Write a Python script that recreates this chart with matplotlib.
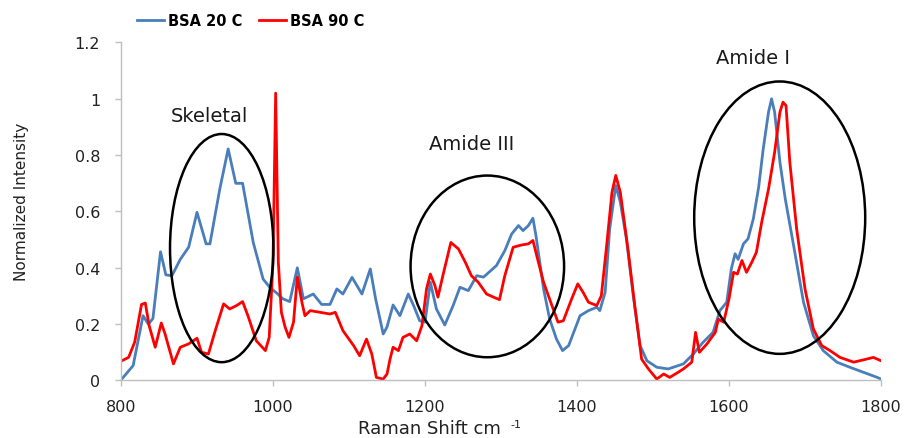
import matplotlib
matplotlib.use("Agg")
import matplotlib.pyplot as plt
from matplotlib.patches import Ellipse

blue_x = [801, 816, 829, 836, 842, 852, 859, 867, 878, 889, 900, 912, 917, 930, 941, 951, 960, 974, 987, 996,
          1005, 1013, 1022, 1032, 1040, 1053, 1064, 1075, 1084, 1092, 1104, 1117, 1128, 1135, 1145, 1150, 1158,
          1167, 1178, 1185, 1193, 1200, 1207, 1215, 1226, 1237, 1246, 1257, 1268, 1277, 1294, 1305, 1314, 1323,
          1329, 1336, 1342, 1346, 1356, 1364, 1373, 1381, 1389, 1404, 1415, 1426, 1430, 1437, 1443, 1451, 1457,
          1465, 1474, 1483, 1492, 1505, 1520, 1540, 1553, 1566, 1579, 1588, 1597, 1603, 1608, 1612, 1619, 1625,
          1632, 1639, 1645, 1652, 1656, 1660, 1667, 1674, 1685, 1698, 1711, 1724, 1742, 1759, 1777, 1795, 1800]
blue_y = [0.005, 0.053, 0.23, 0.20, 0.22, 0.457, 0.375, 0.372, 0.43, 0.473, 0.597, 0.485, 0.485, 0.68, 0.822,
          0.70, 0.70, 0.49, 0.36, 0.33, 0.31, 0.29, 0.28, 0.40, 0.29, 0.307, 0.27, 0.27, 0.325, 0.307, 0.366,
          0.307, 0.396, 0.29, 0.165, 0.19, 0.268, 0.23, 0.307, 0.266, 0.212, 0.207, 0.349, 0.254, 0.197, 0.266,
          0.331, 0.319, 0.372, 0.367, 0.408, 0.461, 0.52, 0.55, 0.532, 0.55, 0.576, 0.514, 0.325, 0.218, 0.147,
          0.106, 0.124, 0.23, 0.248, 0.26, 0.248, 0.313, 0.538, 0.692, 0.633, 0.503, 0.301, 0.124, 0.07, 0.047,
          0.041, 0.059, 0.094, 0.136, 0.171, 0.248, 0.278, 0.396, 0.45, 0.43, 0.485, 0.503, 0.574, 0.686, 0.822,
          0.953, 1.0, 0.953, 0.775, 0.645, 0.479, 0.278, 0.159, 0.106, 0.065, 0.047, 0.029, 0.011, 0.005]

red_x = [801, 810, 818, 827, 832, 837, 845, 853, 858, 869, 878, 889, 900, 906, 915, 924, 935, 943, 952, 960,
         967, 978, 990, 995, 1000, 1003.5, 1007, 1011, 1016, 1021, 1027, 1032, 1038, 1042, 1049, 1062, 1075,
         1082, 1092, 1106, 1114, 1123, 1130, 1136, 1145, 1150, 1154, 1158, 1165, 1171, 1180, 1189, 1196, 1202,
         1207, 1213, 1217, 1224, 1234, 1244, 1253, 1261, 1270, 1281, 1290, 1298, 1305, 1316, 1327, 1336, 1342,
         1347, 1356, 1367, 1375, 1382, 1393, 1401, 1408, 1415, 1426, 1432, 1439, 1446, 1451, 1457, 1467, 1476,
         1485, 1494, 1505, 1514, 1522, 1533, 1540, 1551, 1556, 1561, 1571, 1582, 1586, 1593, 1600, 1606, 1611,
         1617, 1623, 1630, 1636, 1643, 1652, 1660, 1667, 1671, 1675, 1680, 1689, 1700, 1711, 1722, 1733, 1746,
         1764, 1781, 1790, 1800]
red_y = [0.07, 0.082, 0.136, 0.27, 0.275, 0.195, 0.118, 0.204, 0.165, 0.059, 0.118, 0.13, 0.15, 0.10, 0.094,
         0.177, 0.272, 0.254, 0.266, 0.28, 0.23, 0.141, 0.106, 0.153, 0.42, 1.02, 0.42, 0.242, 0.189, 0.153,
         0.207, 0.367, 0.278, 0.23, 0.248, 0.242, 0.236, 0.242, 0.177, 0.124, 0.088, 0.147, 0.094, 0.011, 0.005,
         0.023, 0.076, 0.118, 0.106, 0.153, 0.165, 0.141, 0.195, 0.325, 0.378, 0.337, 0.296, 0.378, 0.49, 0.467,
         0.42, 0.372, 0.349, 0.307, 0.296, 0.287, 0.372, 0.473, 0.481, 0.485, 0.497, 0.443, 0.349, 0.266, 0.207,
         0.212, 0.29, 0.343, 0.313, 0.278, 0.266, 0.301, 0.479, 0.668, 0.728, 0.668, 0.467, 0.266, 0.076, 0.041,
         0.005, 0.023, 0.011, 0.029, 0.041, 0.065, 0.171, 0.10, 0.13, 0.171, 0.218, 0.207, 0.29, 0.384, 0.378,
         0.426, 0.384, 0.42, 0.455, 0.562, 0.68, 0.81, 0.953, 0.988, 0.976, 0.775, 0.538, 0.325, 0.183, 0.124,
         0.106, 0.082, 0.065, 0.076, 0.082, 0.07]

series_labels = ["BSA 20 C", "BSA 90 C"]
x_ticks = [800, 1000, 1200, 1400, 1600, 1800]
y_ticks = [0, 0.2, 0.4, 0.6, 0.8, 1.0, 1.2]
y_tick_labels = ["0", "0.2", "0.4", "0.6", "0.8", "1", "1.2"]

region_labels = ["Skeletal", "Amide III", "Amide I"]
region_label_x = [917, 1261, 1632]
region_label_y = [0.94, 0.84, 1.148]
ellipse_cx = [932.5, 1282, 1666.7]
ellipse_cy = [0.47, 0.405, 0.578]
ellipse_w = [136, 202, 225]
ellipse_h = [0.81, 0.645, 0.967]

fig = plt.figure(figsize=(9.05, 4.39), dpi=100)
ax = fig.add_axes([0.1337, 0.131, 0.8398, 0.770])

l1, = ax.plot(blue_x, blue_y, color="#4a7ebb", lw=2.0, label=series_labels[0])
l2, = ax.plot(red_x, red_y, color="#ff0000", lw=2.0, label=series_labels[1])

for cx, cy, w, h in zip(ellipse_cx, ellipse_cy, ellipse_w, ellipse_h):
    ax.add_patch(Ellipse((cx, cy), w, h, fill=False, edgecolor="black", lw=1.8, zorder=5))
for t, tx, ty in zip(region_labels, region_label_x, region_label_y):
    ax.text(tx, ty, t, ha="center", va="center", fontsize=14, family="DejaVu Sans", color="#1a1a1a")

ax.set_xlim(800, 1800)
ax.set_ylim(0, 1.2)
ax.set_xticks(x_ticks)
ax.set_xticklabels([str(v) for v in x_ticks], fontsize=11.5, family="DejaVu Sans")
ax.set_yticks(y_ticks)
ax.set_yticklabels(y_tick_labels, fontsize=11.5, family="DejaVu Sans")
for s in ["top", "right"]:
    ax.spines[s].set_visible(False)
for s in ["left", "bottom"]:
    ax.spines[s].set_color("#bfbfbf")
    ax.spines[s].set_linewidth(1.0)
ax.tick_params(axis="both", colors="#bfbfbf", labelcolor="#222222", length=4, width=1)
ax.tick_params(axis="x", pad=9)
ax.tick_params(axis="y", pad=11)

fig.text(358 / 905, 1 - 434 / 439, "Raman Shift cm", ha="left", va="baseline",
         fontsize=13, family="DejaVu Sans", color="#222222")
fig.text(510 / 905, 1 - 428 / 439, "-1", ha="left", va="baseline",
         fontsize=8, family="DejaVu Sans", color="#222222")
fig.text(0.024, 0.54, "Normalized Intensity", rotation=90, ha="center", va="center",
         fontsize=11, family=["Liberation Sans Narrow", "DejaVu Sans"], color="#222222")

fig.legend(handles=[l1, l2], loc="center left", bbox_to_anchor=(0.137, 0.950), ncol=2, frameon=False,
           handlelength=1.85, handletextpad=0.25, columnspacing=1.15,
           prop={"family": "DejaVu Sans", "size": 10.5, "weight": "bold"})

fig.savefig("out.png", dpi=100)
